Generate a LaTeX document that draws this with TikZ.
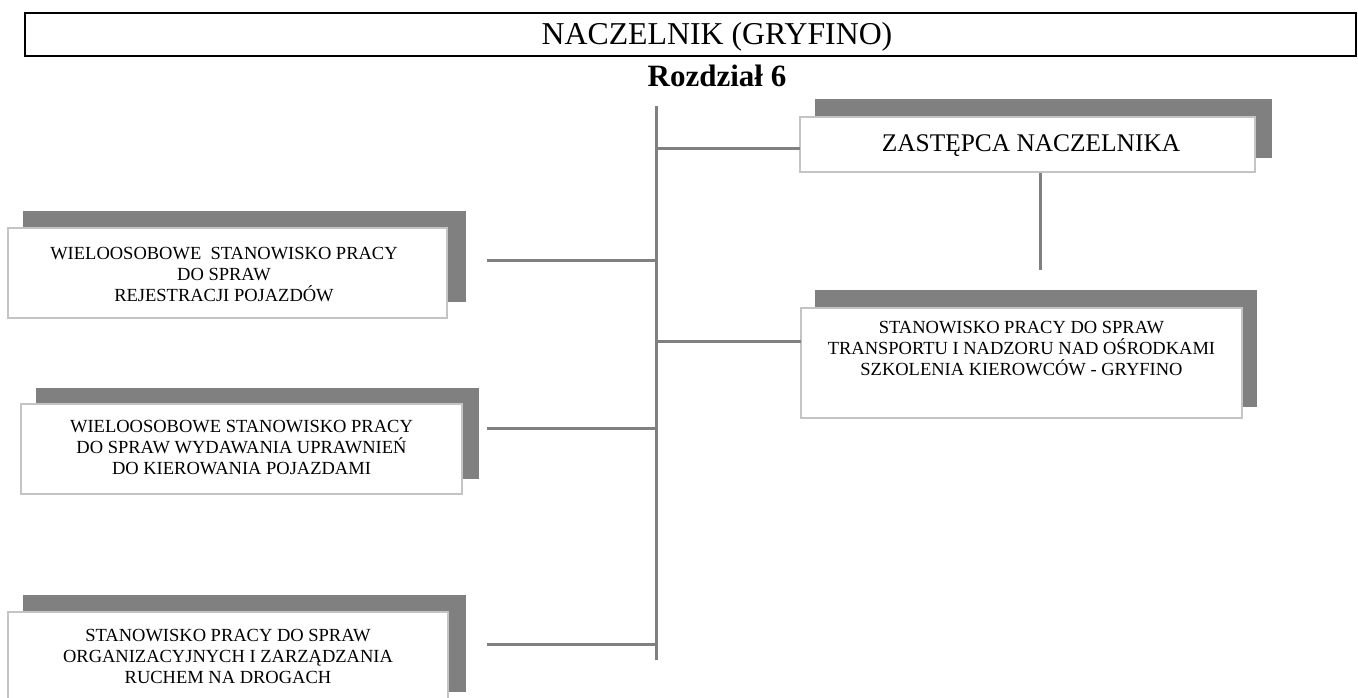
\documentclass[tikz,border=0pt]{standalone}
\usepackage{fontspec}
\setmainfont{Liberation Serif}
\definecolor{lnk}{HTML}{808080}
\definecolor{shd}{HTML}{808080}
\definecolor{edge}{HTML}{C4C4C4}
\begin{document}
\begin{tikzpicture}[x=1pt,y=-1pt,
  conn/.style={draw=lnk,line width=3pt},
  wbox/.style={draw=edge,fill=white,line width=1.6pt,inner sep=0pt,rectangle},
  small/.style={font=\fontsize{18.5}{21}\selectfont,align=center,inner sep=0pt},
  big/.style={font=\fontsize{25.4}{29}\selectfont,inner sep=0pt,anchor=base}]
\clip (0,0) rectangle (1358,698);
\useasboundingbox (0,0) rectangle (1358,698);

% top box
\node[draw=black,line width=1.8pt,inner sep=0pt,minimum width=1331pt,minimum height=43pt] (top) at (690.5,34.5) {};
\node[font=\fontsize{31.8}{37}\selectfont,inner sep=0pt,anchor=base] (title) at (717,45) {NACZELNIK (GRYFINO)};
\node[font=\fontsize{31}{36}\selectfont\bfseries,inner sep=0pt,anchor=base] (rozdz) at (717,87) {Rozdział 6};

% trunk
\coordinate (trtop) at (656,106);
\coordinate (trbot) at (656,660);
\draw[conn] (trtop) -- (trbot);

% Zastepca
\fill[shd] (815,99) rectangle (1272,158);
\node[wbox,minimum width=455pt,minimum height=55pt] (z) at (1027.5,144.5) {};
\node[big] (zt) at (1031,152) {ZASTĘPCA NACZELNIKA};
\coordinate (zc) at (800,149);
\draw[conn] (zc -| trtop) -- (zc);
\coordinate (zv) at (1040,270);
\draw[conn] (zv |- z.south) -- (zv);

% box 1
\fill[shd] (23,211) rectangle (466,302);
\node[wbox,minimum width=439pt,minimum height=90pt] (b1) at (227.5,273) {};
\node[small] (t1) at (224,275) {WIELOOSOBOWE\ \ STANOWISKO PRACY\\DO SPRAW\\REJESTRACJI POJAZDÓW};
\coordinate (c1) at (487,260);
\draw[conn] (c1) -- (c1 -| trtop);

% box 2
\fill[shd] (36,388) rectangle (479,479);
\node[wbox,minimum width=441pt,minimum height=90pt] (b2) at (241.5,449) {};
\node[small] (t2) at (241.5,448) {WIELOOSOBOWE STANOWISKO PRACY\\DO SPRAW WYDAWANIA UPRAWNIEŃ\\DO KIEROWANIA POJAZDAMI};
\coordinate (c2) at (487,428);
\draw[conn] (c2) -- (c2 -| trtop);

% box 3
\fill[shd] (23,595) rectangle (466,692);
\node[wbox,minimum width=440pt,minimum height=92pt] (b3) at (228,658) {};
\node[small] (t3) at (228,656) {STANOWISKO PRACY DO SPRAW\\ORGANIZACYJNYCH I ZARZĄDZANIA\\RUCHEM NA DROGACH};
\coordinate (c3) at (487,644);
\draw[conn] (c3) -- (c3 -| trtop);

% box 4
\fill[shd] (815,290) rectangle (1257,407);
\node[wbox,minimum width=441pt,minimum height=110pt] (b4) at (1021.5,363) {};
\node[small] (t4) at (1021.5,349) {STANOWISKO PRACY DO SPRAW\\TRANSPORTU I NADZORU NAD OŚRODKAMI\\SZKOLENIA KIEROWCÓW - GRYFINO};
\coordinate (c4) at (801,341);
\draw[conn] (c4 -| trtop) -- (c4);
\end{tikzpicture}
\end{document}
